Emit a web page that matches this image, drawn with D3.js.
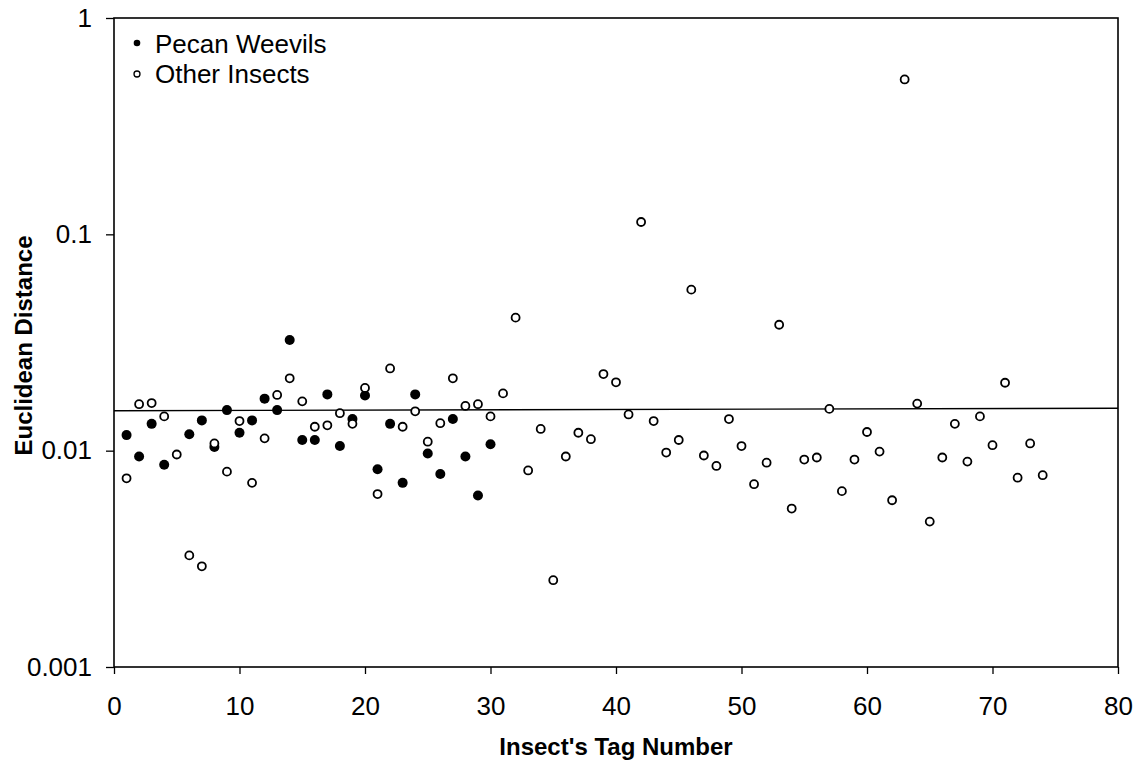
<!DOCTYPE html>
<html>
<head>
<meta charset="utf-8">
<script src="https://cdn.jsdelivr.net/npm/d3@7"></script>
<style>
  html, body { margin: 0; padding: 0; background: #ffffff; }
  svg { display: block; }
  text { font-family: "Liberation Sans", Arial, sans-serif; fill: #000; }
</style>
</head>
<body>
<svg id="chart" width="1144" height="763"></svg>
<script>
// Pecan weevils: tag number and Euclidean distance
const weevilTags = [1, 2, 3, 4, 6, 7, 8, 9, 10, 11, 12, 13, 14, 15, 16, 17, 18, 19, 20,
  21, 22, 23, 24, 25, 26, 27, 28, 29, 30];
const weevilDist = [0.0118, 0.0094, 0.0133, 0.0086, 0.0119, 0.0138, 0.0104, 0.0154, 0.0121,
  0.0138, 0.0174, 0.0154, 0.0325, 0.0112, 0.0112, 0.0182, 0.0105, 0.0140, 0.0180,
  0.0082, 0.0133, 0.0071, 0.0182, 0.0097, 0.0078, 0.0140, 0.0094, 0.0062, 0.0107];

// Other insects: tag numbers 1..74
const otherTags = d3.range(1, 75);
const otherDist = [0.00745, 0.0164, 0.0166, 0.0144, 0.0096, 0.00328, 0.00292, 0.0108, 0.0080, 0.0137,
  0.0071, 0.0114, 0.0181, 0.0216, 0.0169, 0.0129, 0.0131, 0.0149, 0.0133, 0.0195,
  0.0063, 0.0240, 0.0129, 0.0152, 0.0110, 0.0134, 0.0216, 0.0161, 0.0164, 0.0144,
  0.0184, 0.0412, 0.0081, 0.0126, 0.00252, 0.0094, 0.0121, 0.0113, 0.0226, 0.0207,
  0.0147, 0.114, 0.0137, 0.0098, 0.0112, 0.0555, 0.0095, 0.0085, 0.0140, 0.0105,
  0.0070, 0.0088, 0.0382, 0.0054, 0.0091, 0.0093, 0.0156, 0.0065, 0.0091, 0.0122,
  0.0099, 0.0059, 0.520, 0.0165, 0.0047, 0.0093, 0.0133, 0.0089, 0.0144, 0.0106,
  0.0206, 0.0075, 0.0108, 0.0077];

// Fitted trend line end points
const trendTags = [0, 80];
const trendDist = [0.0153, 0.0157];

// Axis ticks
const xTicks = [0, 10, 20, 30, 40, 50, 60, 70, 80];
const yTicks = [0.001, 0.01, 0.1, 1];
const yTickLabels = ["0.001", "0.01", "0.1", "1"];

const seriesNames = ["Pecan Weevils", "Other Insects"];

const svg = d3.select("#chart");
const plotLeft = 114, plotRight = 1118, plotTop = 18, plotBottom = 667;

const x = d3.scaleLinear().domain([0, 80]).range([plotLeft, plotRight]);
const y = d3.scaleLog().domain([0.001, 1]).range([plotBottom, plotTop]);

// Axes
const xAxis = d3.axisBottom(x).tickValues(xTicks).tickSize(7).tickPadding(23).tickSizeOuter(0)
  .tickFormat(d3.format("d"));
const gx = svg.append("g").attr("transform", `translate(0,${plotBottom})`).call(xAxis);

const yAxis = d3.axisLeft(y).tickValues(yTicks).tickSize(8).tickPadding(14).tickSizeOuter(0)
  .tickFormat((d, i) => yTickLabels[i]);
const gy = svg.append("g").attr("transform", `translate(${plotLeft},0)`).call(yAxis);

[gx, gy].forEach(g => {
  g.select(".domain").remove();
  g.selectAll(".tick line").attr("stroke", "#000").attr("stroke-width", 1.3);
  g.selectAll(".tick text").attr("font-size", 26).attr("font-family", "Liberation Sans, Arial, sans-serif").attr("fill", "#000");
});
gx.selectAll(".tick text").attr("dy", "0.71em");

// Plot frame
svg.append("rect")
  .attr("x", plotLeft).attr("y", plotTop)
  .attr("width", plotRight - plotLeft).attr("height", plotBottom - plotTop)
  .attr("fill", "none").attr("stroke", "#000").attr("stroke-width", 1.6);

// Trend line
svg.append("path")
  .datum(trendTags.map((t, i) => [t, trendDist[i]]))
  .attr("d", d3.line().x(d => x(d[0])).y(d => y(d[1])))
  .attr("fill", "none").attr("stroke", "#000").attr("stroke-width", 1.4);

// Pecan weevils: filled dots
svg.append("g").selectAll("circle")
  .data(weevilTags.map((t, i) => [t, weevilDist[i]]))
  .join("circle")
  .attr("cx", d => x(d[0])).attr("cy", d => y(d[1]))
  .attr("r", 5).attr("fill", "#000");

// Other insects: open dots
svg.append("g").selectAll("circle")
  .data(otherTags.map((t, i) => [t, otherDist[i]]))
  .join("circle")
  .attr("cx", d => x(d[0])).attr("cy", d => y(d[1]))
  .attr("r", 4).attr("fill", "#fff").attr("stroke", "#000").attr("stroke-width", 1.8);

// Legend
const legend = svg.append("g");
legend.append("circle").attr("cx", 137).attr("cy", 43).attr("r", 3.3).attr("fill", "#000");
legend.append("circle").attr("cx", 137).attr("cy", 74).attr("r", 3)
  .attr("fill", "#fff").attr("stroke", "#000").attr("stroke-width", 1.3);
legend.append("text").attr("x", 155).attr("y", 53).attr("font-size", 26).text(seriesNames[0]);
legend.append("text").attr("x", 155).attr("y", 83).attr("font-size", 26).text(seriesNames[1]);

// Axis titles
svg.append("text")
  .attr("x", (plotLeft + plotRight) / 2).attr("y", 755)
  .attr("text-anchor", "middle").attr("font-size", 24).attr("font-weight", "bold")
  .text("Insect's Tag Number");
svg.append("text")
  .attr("transform", `translate(32,${(plotTop + plotBottom) / 2 + 3}) rotate(-90)`)
  .attr("text-anchor", "middle").attr("font-size", 24).attr("font-weight", "bold")
  .text("Euclidean Distance");
</script>
</body>
</html>
